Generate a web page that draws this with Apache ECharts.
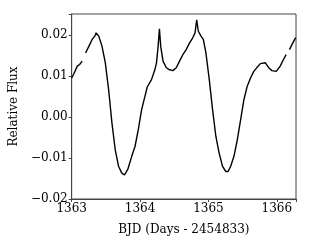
<!DOCTYPE html>
<html>
<head>
<meta charset="utf-8">
<script src="https://cdn.jsdelivr.net/npm/echarts@6/dist/echarts.min.js"></script>
<style>html,body{margin:0;padding:0;background:#fff}#c{width:311px;height:243px}</style>
</head>
<body>
<div id="c"></div>
<script>
var days = [1363.000,1363.034,1363.082,1363.116,1363.154,null,1363.203,1363.251,1363.299,1363.338,1363.357,1363.396,1363.444,1363.492,1363.540,1363.589,1363.637,1363.685,1363.733,1363.772,1363.820,1363.878,1363.926,1363.974,1364.023,1364.071,1364.105,1364.167,1364.216,1364.240,1364.264,1364.283,1364.302,1364.336,1364.384,1364.433,1364.481,1364.529,1364.577,1364.626,1364.674,1364.722,1364.770,1364.804,1364.828,1364.852,1364.891,1364.925,1364.963,1365.012,1365.060,1365.108,1365.156,1365.205,1365.253,1365.287,1365.325,1365.373,1365.422,1365.470,1365.518,1365.567,1365.615,1365.663,1365.711,1365.759,1365.832,1365.880,1365.928,1365.991,1366.049,1366.097,1366.136,null,1366.184,1366.232,1366.266,1366.280];
var flux = [0.0095,0.0106,0.0124,0.0128,0.0136,null,0.0156,0.0172,0.0189,0.0197,0.0205,0.0197,0.0172,0.0132,0.0067,-0.0015,-0.0080,-0.0120,-0.0137,-0.0141,-0.0128,-0.0096,-0.0072,-0.0031,0.0018,0.0050,0.0073,0.0091,0.0115,0.0132,0.0172,0.0215,0.0172,0.0136,0.0120,0.0115,0.0113,0.0120,0.0136,0.0152,0.0164,0.0180,0.0193,0.0205,0.0237,0.0209,0.0197,0.0189,0.0156,0.0091,0.0018,-0.0047,-0.0088,-0.0120,-0.0133,-0.0133,-0.0120,-0.0096,-0.0055,-0.0007,0.0042,0.0075,0.0095,0.0111,0.0121,0.0130,0.0132,0.0120,0.0113,0.0111,0.0124,0.0140,0.0152,null,0.0164,0.0180,0.0191,0.0193];
var xTicks = [1363, 1364, 1365, 1366];
var yTicks = [-0.02, -0.01, 0.00, 0.01, 0.02];

var pts = days.map(function(d, i){ return d === null ? [null, null] : [d, flux[i]]; });
var font = 'DejaVu Serif';
var fs = 12;
var chart = echarts.init(document.getElementById('c'), null, {renderer: 'canvas'});
chart.setOption({
  animation: false,
  grid: {left: 69, right: 15, top: 14, bottom: 44, show: true, borderColor: '#444', borderWidth: 1, backgroundColor: 'transparent'},
  xAxis: {
    type: 'value', min: 1363, max: 1366.28, interval: 1,
    name: 'BJD (Days - 2454833)', nameLocation: 'middle', nameGap: 25,
    nameTextStyle: {fontFamily: font, fontSize: fs, color: '#000'},
    axisLine: {show: true, onZero: false, lineStyle: {color: '#444'}},
    axisTick: {show: true, length: 3, lineStyle: {color: '#444'}},
    splitLine: {show: false},
    axisLabel: {fontFamily: font, fontSize: fs, color: '#000', margin: 4,
      formatter: function(v){ return xTicks.indexOf(Math.round(v*1000)/1000) >= 0 ? String(v) : ''; }}
  },
  yAxis: {
    type: 'value', min: -0.02, max: 0.0251, interval: 0.01,
    name: 'Relative Flux', nameLocation: 'middle', nameGap: 46,
    nameTextStyle: {fontFamily: font, fontSize: fs, color: '#000'},
    axisLine: {show: true, onZero: false, lineStyle: {color: '#444'}},
    axisTick: {show: true, length: 3, lineStyle: {color: '#444'}},
    splitLine: {show: false},
    axisLabel: {fontFamily: font, fontSize: fs, color: '#000', margin: 4,
      formatter: function(v){
        var r = Math.round(v*100)/100;
        var ok = yTicks.some(function(t){ return Math.abs(t - v) < 1e-6; });
        if (!ok) return '';
        var s = Math.abs(r).toFixed(2);
        return r < 0 ? '\u2212' + s : s;
      }}
  },
  series: [{
    type: 'line', data: pts, showSymbol: false, connectNulls: false,
    lineStyle: {color: '#000', width: 1.4}, smooth: false
  }]
});
</script>
</body>
</html>
